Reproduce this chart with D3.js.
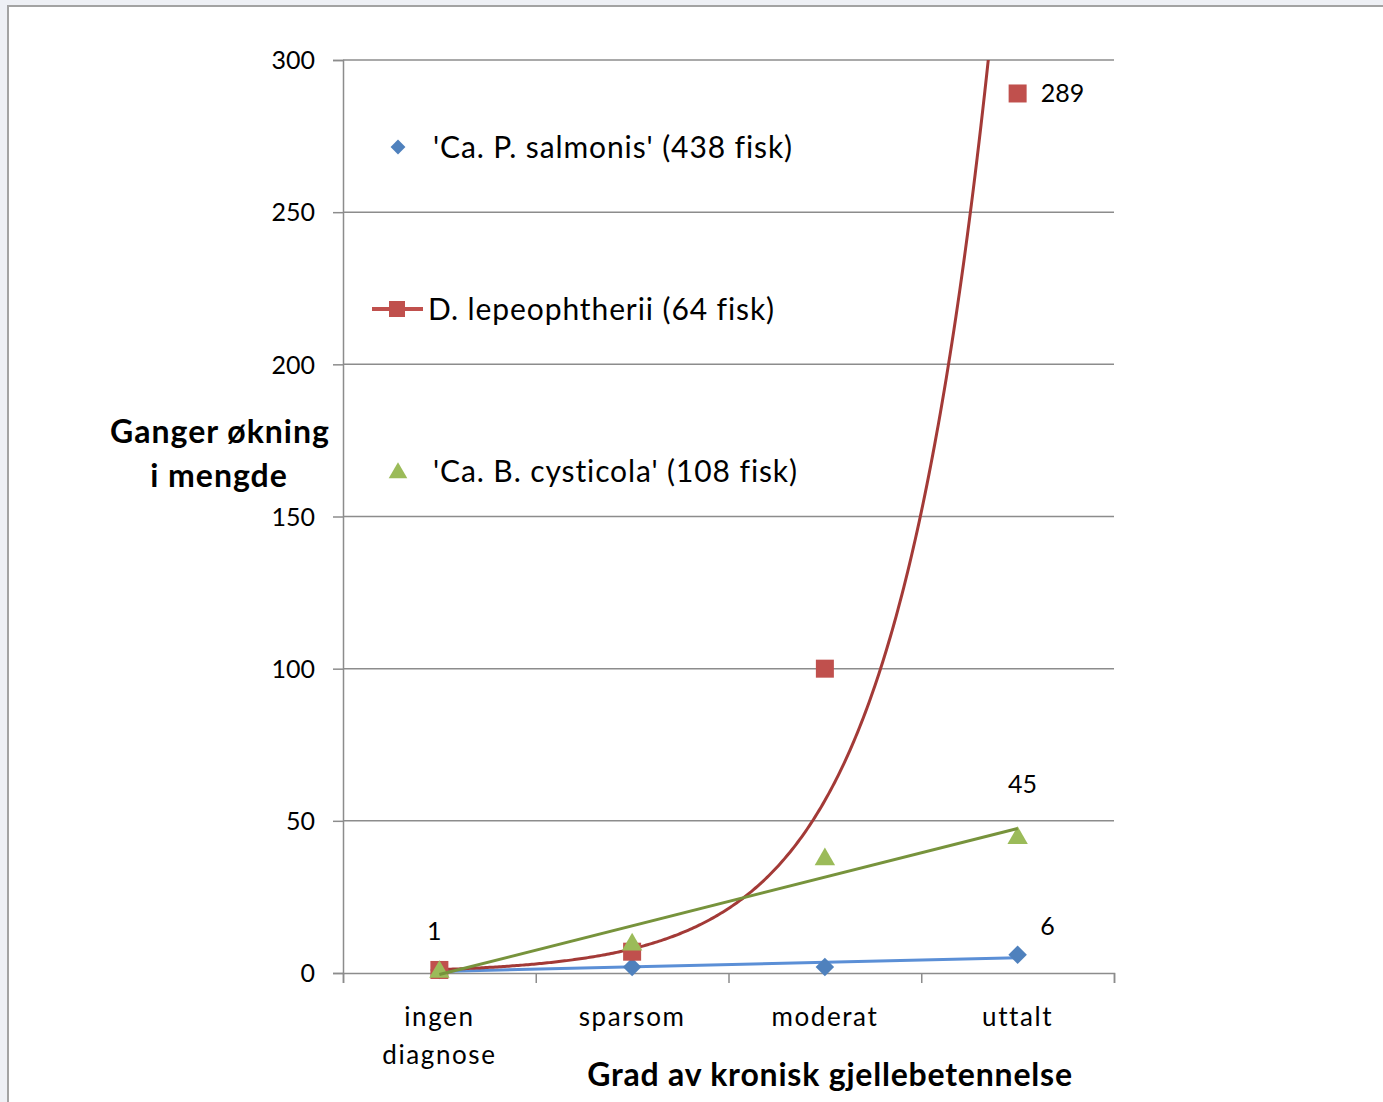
<!DOCTYPE html>
<html lang="no">
<head>
<meta charset="UTF-8">
<title>Ganger økning i mengde</title>
<script src="https://d3js.org/d3.v7.min.js"></script>
<style>
  body { margin: 0; background: #eef0f5; }
  text { font-family: Lato, "Open Sans", sans-serif; fill: #000; font-variant-ligatures: none; }
</style>
</head>
<body>
<script>
    const width  = 1383;
    const height = 1102;

    // data
    const categories = [["ingen", "diagnose"], ["sparsom"], ["moderat"], ["uttalt"]];
    const salmonis   = [1, 2, 2, 6];
    const lepeo      = [1, 7, 100, 289];
    const cysticola  = [1, 10, 38, 45];
    const yTicks     = [0, 50, 100, 150, 200, 250, 300];

    const legendNames = [
        "'Ca. P. salmonis' (438 fisk)",
        "D. lepeophtherii (64 fisk)",
        "'Ca. B. cysticola' (108 fisk)"
    ];

    const plot = {left: 343, right: 1114, top: 60, bottom: 973};

    const svg = d3.select("body").append("svg")
        .attr("width", width).attr("height", height);

    // white panel
    svg.append("rect")
        .attr("x", 8).attr("y", 6)
        .attr("width", width + 20).attr("height", height + 20)
        .style("fill", "#fff").style("stroke", "#a3a3a3").style("stroke-width", 2);

    const x = d3.scaleLinear().domain([0.5, 4.5]).range([plot.left, plot.right]);
    const y = d3.scaleLinear().domain([0, 300]).range([plot.bottom, plot.top]);

    // grid
    svg.append("g").selectAll("line").data(yTicks.filter(d => d > 0)).join("line")
        .attr("x1", plot.left).attr("x2", plot.right)
        .attr("y1", d => y(d)).attr("y2", d => y(d))
        .style("stroke", "#8c8c8c").style("stroke-width", 1.5);

    // axes
    const yAxis = d3.axisLeft(y).tickValues(yTicks).tickSize(10).tickPadding(18);
    const gy = svg.append("g").attr("transform", "translate(" + plot.left + ",0)").call(yAxis);
    gy.selectAll("text").style("font-size", "25px").attr("dy", "0.35em");

    const xAxis = d3.axisBottom(x).tickValues([0.5, 1.5, 2.5, 3.5, 4.5]).tickSize(10).tickFormat("");
    const gx = svg.append("g").attr("transform", "translate(0," + plot.bottom + ")").call(xAxis);

    [gx, gy].forEach(g => {
        g.select(".domain").style("stroke", "#8c8c8c").style("stroke-width", 1.5);
        g.selectAll(".tick line").style("stroke", "#8c8c8c").style("stroke-width", 1.5);
    });

    // category labels
    const cat = svg.append("g").selectAll("text").data(categories).join("text")
        .attr("x", (d, i) => x(i + 1))
        .attr("y", 1026)
        .attr("text-anchor", "middle")
        .style("font-size", "26px")
        .style("letter-spacing", "1.6px");
    cat.selectAll("tspan").data(d => d).join("tspan")
        .attr("x", function () { return this.parentNode.getAttribute("x"); })
        .attr("dy", (d, i) => i === 0 ? 0 : 38)
        .text(d => d);

    // titles
    svg.append("text")
        .attr("x", 830).attr("y", 1086)
        .attr("text-anchor", "middle")
        .style("font-size", "32px").style("font-weight", "bold")
        .style("letter-spacing", "0.8px")
        .text("Grad av kronisk gjellebetennelse");

    const yt = svg.append("text")
        .attr("text-anchor", "middle")
        .style("font-size", "32px").style("font-weight", "bold")
        .style("letter-spacing", "1px");
    yt.append("tspan").attr("x", 220).attr("y", 443).text("Ganger økning");
    yt.append("tspan").attr("x", 219).attr("y", 487).text("i mengde");

    // trend lines
    const idx = [1, 2, 3, 4];
    function linFit(v) {
        const mx = d3.mean(idx), my = d3.mean(v);
        const b = d3.sum(idx, (d, i) => (d - mx) * (v[i] - my)) / d3.sum(idx, d => (d - mx) ** 2);
        return t => my + b * (t - mx);
    }
    function expFit(v) {
        const f = linFit(v.map(Math.log));
        return t => Math.exp(f(t));
    }

    svg.append("defs").append("clipPath").attr("id", "plotclip")
        .append("rect")
        .attr("x", plot.left).attr("y", plot.top)
        .attr("width", plot.right - plot.left).attr("height", plot.bottom - plot.top + 10);

    const line = d3.line().x(d => x(d[0])).y(d => y(d[1]));
    const ts = d3.range(1, 4.001, 0.01);

    const fb = linFit(salmonis), fr = expFit(lepeo), fg = linFit(cysticola);

    const lines = svg.append("g").attr("clip-path", "url(#plotclip)");
    lines.append("path").attr("d", line([[1, fb(1)], [4, fb(4)]]))
        .style("fill", "none").style("stroke", "#5b8fd6").style("stroke-width", 3);

    // markers
    const sq = 18;
    svg.append("g").selectAll("path").data(salmonis).join("path")
        .attr("transform", (d, i) => "translate(" + x(i + 1) + "," + y(d) + ") rotate(45)")
        .attr("d", d3.symbol(d3.symbolSquare, 170))
        .style("fill", "#4f81bd");

    svg.append("g").selectAll("rect").data(lepeo).join("rect")
        .attr("x", (d, i) => x(i + 1) - sq / 2).attr("y", d => y(d) - sq / 2)
        .attr("width", sq).attr("height", sq)
        .style("fill", "#c0504d");

    lines.append("path").attr("d", line(ts.map(t => [t, fr(t)])))
        .style("fill", "none").style("stroke", "#a33a37").style("stroke-width", 3);

    svg.append("g").selectAll("path").data(cysticola).join("path")
        .attr("transform", (d, i) => "translate(" + x(i + 1) + "," + (y(d) + 2) + ")")
        .attr("d", d3.symbol(d3.symbolTriangle, 180))
        .style("fill", "#9bbb59");

    svg.append("g").attr("clip-path", "url(#plotclip)")
        .append("path").attr("d", line([[1, fg(1)], [4, fg(4)]]))
        .style("fill", "none").style("stroke", "#77933c").style("stroke-width", 3);

    // data labels
    const labels = [
        {v: lepeo[0], i: 1, text: "1", dx: -5, dy: -30},
        {v: salmonis[3], i: 4, text: "6", dx: 30, dy: -20},
        {v: cysticola[3], i: 4, text: "45", dx: 5, dy: -43},
        {v: lepeo[3], i: 4, text: "289", dx: 45, dy: 9}
    ];
    svg.append("g").selectAll("text").data(labels).join("text")
        .attr("x", d => x(d.i) + d.dx).attr("y", d => y(d.v) + d.dy)
        .attr("text-anchor", "middle")
        .style("font-size", "25px")
        .text(d => d.text);

    // legend
    const lg = svg.append("g");
    const ly = [147, 309, 471];
    lg.append("path").attr("transform", "translate(398," + ly[0] + ") rotate(45)")
        .attr("d", d3.symbol(d3.symbolSquare, 110)).style("fill", "#4f81bd");
    lg.append("line").attr("x1", 372).attr("x2", 423).attr("y1", ly[1]).attr("y2", ly[1])
        .style("stroke", "#c0504d").style("stroke-width", 4);
    lg.append("rect").attr("x", 389).attr("y", ly[1] - 8).attr("width", 16).attr("height", 16)
        .style("fill", "#c0504d");
    lg.append("path").attr("transform", "translate(398," + (ly[2] + 2) + ")")
        .attr("d", d3.symbol(d3.symbolTriangle, 150)).style("fill", "#9bbb59");
    lg.selectAll("text").data(legendNames).join("text")
        .attr("x", (d, i) => i === 1 ? 428 : 433)
        .attr("y", (d, i) => ly[i] + 11)
        .style("font-size", "30px")
        .style("letter-spacing", "0.9px")
        .text(d => d);
</script>
</body>
</html>
